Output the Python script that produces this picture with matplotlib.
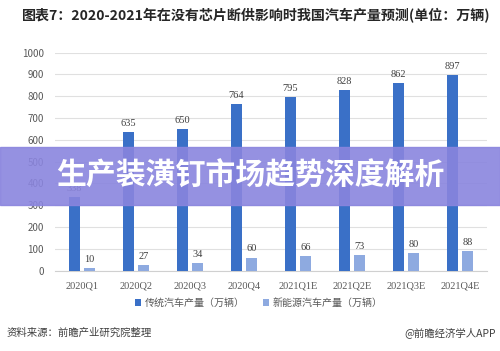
import matplotlib.pyplot as plt
import numpy as np

plt.rcParams['font.family'] = ['Noto Sans CJK SC', 'DejaVu Sans']

# quarters and production (10k vehicles)
quarters = ['2020Q1', '2020Q2', '2020Q3', '2020Q4',
            '2021Q1E', '2021Q2E', '2021Q3E', '2021Q4E']
traditional = [338, 635, 650, 764, 795, 828, 862, 897]
new_energy = [10, 27, 34, 60, 66, 73, 80, 88]
yticks = [0, 100, 200, 300, 400, 500, 600, 700, 800, 900, 1000]

fig = plt.figure(figsize=(5, 3.51), dpi=100)
ax = fig.add_axes([0.11, 0.229, 0.864, 0.621])

x = np.arange(len(quarters))
w = 0.21
b1 = ax.bar(x - 0.14, traditional, w, color='#3a70c7', label='传统汽车产量（万辆）', zorder=3)
b2 = ax.bar(x + 0.14, new_energy, w, color='#8eaae0', label='新能源汽车产量（万辆）', zorder=3)
ax.bar_label(b1, padding=3, fontsize=7.5, color='#404040', family='Liberation Serif')
ax.bar_label(b2, padding=3, fontsize=7.5, color='#404040', family='Liberation Serif')

ax.set_xlim(-0.5, len(quarters) - 0.5)
ax.set_ylim(0, 1000)
ax.set_yticks(yticks)
ax.tick_params(axis='y', length=0, labelsize=7, labelcolor='#595959', pad=8)
ax.tick_params(axis='x', length=0, labelsize=7.5, labelcolor='#595959', pad=8)
ax.set_xticks(x)
ax.set_xticklabels(quarters, family='Liberation Serif')
ax.grid(axis='y', color='#e0e0e0', linewidth=0.8, zorder=0)
for s in ['top', 'right', 'left']:
    ax.spines[s].set_visible(False)
ax.spines['bottom'].set_color('#d0d0d0')

ax.legend(loc='center', bbox_to_anchor=(0.472, -0.148), ncol=2, frameon=False,
          fontsize=7.2, labelcolor='#595959', handlelength=0.6, handleheight=0.6,
          columnspacing=1.8, handletextpad=0.4)

fig.text(0.044, 0.955, '图表7：2020-2021年在没有芯片断供影响时我国汽车产量预测(单位：万辆)',
         fontsize=10.1, fontweight='bold', color='#262626', va='center')
fig.text(0.014, 0.051, '资料来源：前瞻产业研究院整理', fontsize=7.5, color='#404040', va='center')
fig.text(0.992, 0.051, '@前瞻经济学人APP', fontsize=7.5, color='#404040', va='center', ha='right')

# purple overlay banner
fig.patches.append(plt.Rectangle((0, 1 - 205 / 351), 1, 58 / 351, transform=fig.transFigure,
                                 color='#8a85de', alpha=0.9, zorder=10))
fig.text(0.5, 1 - 176 / 351, '生产装潢钉市场趋势深度解析', fontsize=21.5, fontweight='bold',
         color='white', ha='center', va='center', zorder=11)

fig.savefig('out.png', dpi=100)
